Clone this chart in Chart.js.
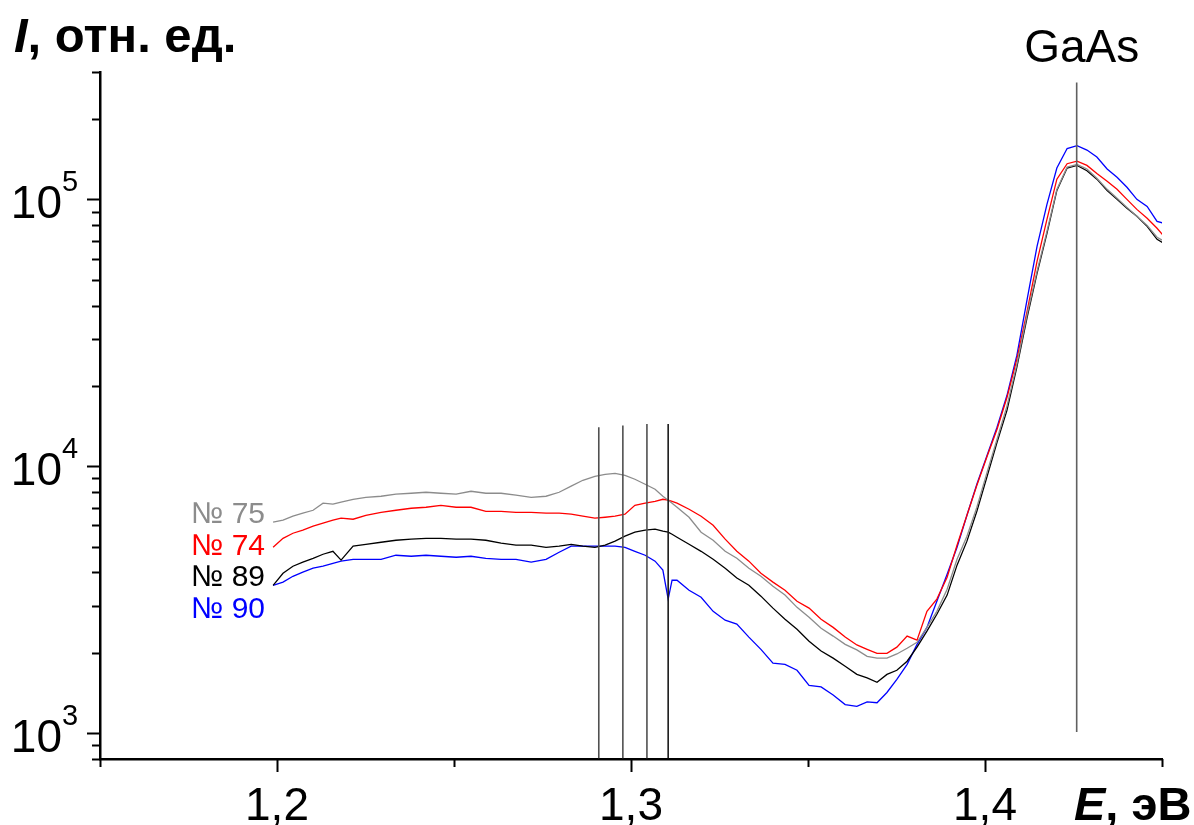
<!DOCTYPE html>
<html>
<head>
<meta charset="utf-8">
<script src="https://cdn.jsdelivr.net/npm/chart.js@4.4.1/dist/chart.umd.min.js"></script>
<style>
  body { margin: 0; background: #fff; }
  #wrap { width: 1194px; height: 825px; }
</style>
</head>
<body>
<div id="wrap"><canvas id="chart" width="1194" height="825"></canvas></div>
<script>
// photon energy, eV
const energy = [
  1.1989, 1.2017, 1.2045, 1.2073, 1.2102, 1.2130, 1.2158, 1.2181, 1.2215, 1.2251,
  1.2294, 1.2336, 1.2379, 1.2421, 1.2463, 1.2506, 1.2548, 1.2590, 1.2633, 1.2675,
  1.2718, 1.2760, 1.2797, 1.2831, 1.2864, 1.2898, 1.2927, 1.2955, 1.2983, 1.3011,
  1.3040, 1.3068, 1.3090, 1.3105, 1.3116, 1.3130, 1.3164, 1.3198, 1.3232, 1.3266,
  1.3299, 1.3333, 1.3367, 1.3401, 1.3435, 1.3469, 1.3503, 1.3537, 1.3571, 1.3605,
  1.3638, 1.3667, 1.3695, 1.3723, 1.3751, 1.3780, 1.3808, 1.3836, 1.3864, 1.3893,
  1.3921, 1.3949, 1.3977, 1.4006, 1.4034, 1.4062, 1.4090, 1.4119, 1.4147, 1.4175,
  1.4203, 1.4232, 1.4260, 1.4288, 1.4316, 1.4345, 1.4373, 1.4401, 1.4429, 1.4458,
  1.4486, 1.4506
];

// intensity, rel. units
const no75 = [
  6170, 6280, 6500, 6670, 6840, 7270, 7210, 7330, 7520, 7650,
  7720, 7860, 7920, 7990, 7920, 7860, 8060, 7920, 7920, 7790,
  7650, 7720, 7990, 8420, 8860, 9170, 9330, 9410, 9250, 8940,
  8560, 8200, 7720, 7460, 7270, 7020, 6440, 5660, 5280, 4800,
  4520, 4150, 3870, 3550, 3290, 2960, 2720, 2470, 2310, 2150,
  2050, 1940, 1910, 1910, 1980, 2080, 2190, 2490, 2860, 3460,
  4480, 5470, 7020, 9500, 12620, 16800, 24100, 37100, 53700, 75900,
  109000, 132000, 135000, 130000, 120000, 109000, 101000, 93300, 86400, 79900,
  72100, 69600
];
const no74 = [
  4970, 5370, 5610, 5760, 5960, 6120, 6280, 6390, 6330, 6550,
  6720, 6840, 6960, 7020, 7140, 7020, 7020, 6780, 6780, 6720,
  6720, 6670, 6670, 6610, 6500, 6390, 6440, 6500, 6610, 7140,
  7270, 7390, 7520, 7460, 7390, 7270, 6900, 6500, 6010, 5330,
  4800, 4410, 3970, 3680, 3430, 3120, 2940, 2670, 2490, 2290,
  2140, 2060, 1990, 1990, 2100, 2310, 2230, 2860, 3180, 3840,
  5060, 6550, 8490, 10900, 13760, 18100, 25200, 38100, 58600, 84200,
  119000, 136000, 139000, 134000, 125000, 117000, 109000, 100000, 91700, 84900,
  77900, 72700
];
const no89 = [
  3580, 3970, 4220, 4370, 4520, 4680, 4800, 4450, 5020, 5100,
  5190, 5280, 5330, 5370, 5370, 5330, 5330, 5280, 5150, 5060,
  5060, 4970, 5020, 5100, 5020, 4970, 5060, 5240, 5470, 5660,
  5760, 5810, 5710, 5660, 5560, 5420, 5100, 4800, 4480, 4150,
  3810, 3580, 3260, 2940, 2670, 2450, 2210, 2030, 1910, 1780,
  1660, 1610, 1550, 1660, 1720, 1860, 2100, 2410, 2790, 3290,
  4260, 5240, 6780, 9170, 12300, 16200, 23500, 36100, 52800, 74600,
  108000, 131000, 134000, 128000, 119000, 108000, 100000, 92500, 86400, 79200,
  70800, 68400
];
const no90 = [
  3580, 3680, 3870, 4010, 4150, 4220, 4330, 4410, 4480, 4480,
  4480, 4640, 4600, 4640, 4600, 4560, 4600, 4520, 4480, 4480,
  4370, 4480, 4760, 5020, 5020, 5020, 5020, 5020, 4970, 4800,
  4640, 4410, 4080, 3180, 3740, 3740, 3430, 3230, 2860, 2650,
  2560, 2290, 2060, 1830, 1810, 1720, 1510, 1490, 1390, 1280,
  1260, 1310, 1300, 1420, 1590, 1810, 2150, 2490, 3120, 3940,
  4970, 6550, 8560, 11000, 14000, 18400, 26000, 42200, 66700, 95800,
  131000, 155000, 159000, 153000, 144000, 130000, 121000, 111000, 100000, 94100,
  82700, 81300
];

const seriesNames = ['№ 75', '№ 74', '№ 89', '№ 90'];
const seriesColors = ['#8c8c8c', '#ff0000', '#000000', '#0000ff'];

// vertical marker lines
const markerE = [1.2909, 1.2977, 1.3045, 1.3105];
const markerTop = [14000, 14200, 14400, 14400];
const markerBottom = 805;
const gaasE = 1.4259;
const gaasRange = [1010, 274000];

// axes
const xTickValues = [1.15, 1.2, 1.25, 1.3, 1.35, 1.4, 1.45];
const xTickLabels = ['', '1,2', '', '1,3', '', '1,4', ''];
const yDecades = [1e3, 1e4, 1e5];
const yDecadeExp = ['3', '4', '5'];
const yMinorTicks = [800, 900, 2000, 3000, 4000, 5000, 6000, 7000, 8000, 9000,
  20000, 30000, 40000, 50000, 60000, 70000, 80000, 90000, 200000, 300000];

const FONT = '"Liberation Sans", Arial, sans-serif';

const toPoints = (ys) => energy.map((e, i) => ({ x: e, y: ys[i] }));

const datasets = [];
markerE.forEach((e, i) => {
  datasets.push({
    data: [{ x: e, y: markerBottom }, { x: e, y: markerTop[i] }],
    borderColor: i < 3 ? '#505050' : '#1a1a1a',
    borderWidth: 1.6
  });
});
datasets.push({
  data: [{ x: gaasE, y: gaasRange[0] }, { x: gaasE, y: gaasRange[1] }],
  borderColor: '#606060',
  borderWidth: 1.6
});
[no75, no74, no89, no90].forEach((ys, i) => {
  datasets.push({
    label: seriesNames[i],
    data: toPoints(ys),
    borderColor: seriesColors[i],
    borderWidth: 1.3
  });
});

const overlay = {
  id: 'overlay',
  afterDraw(chart) {
    const { ctx, chartArea: a, scales: { x, y } } = chart;
    ctx.save();
    ctx.strokeStyle = '#000';
    ctx.lineWidth = 2;
    const seg = (x1, y1, x2, y2) => {
      ctx.beginPath(); ctx.moveTo(x1, y1); ctx.lineTo(x2, y2); ctx.stroke();
    };
    yMinorTicks.forEach(v => {
      const py = Math.round(y.getPixelForValue(v)) + 0.5;
      seg(a.left - 8, py, a.left, py);
    });
    yDecades.forEach(v => {
      const py = Math.round(y.getPixelForValue(v)) + 0.5;
      seg(a.left - 13, py, a.left, py);
    });
    xTickValues.forEach((v, i) => {
      const px = Math.round(x.getPixelForValue(v)) + 0.5;
      seg(px, a.bottom, px, a.bottom + (xTickLabels[i] ? 13 : 8));
    });

    ctx.fillStyle = '#000';
    ctx.textBaseline = 'alphabetic';
    // y decade labels with superscripts
    yDecades.forEach((v, i) => {
      const py = y.getPixelForValue(v);
      ctx.font = '46px ' + FONT;
      ctx.textAlign = 'right';
      ctx.fillText('10', 62, py + 19);
      ctx.font = '29px ' + FONT;
      ctx.textAlign = 'left';
      ctx.fillText(yDecadeExp[i], 62, py - 8);
    });
    // x labels
    ctx.font = '46px ' + FONT;
    ctx.textAlign = 'center';
    xTickValues.forEach((v, i) => {
      if (xTickLabels[i]) ctx.fillText(xTickLabels[i], x.getPixelForValue(v), 820);
    });

    // axis titles
    ctx.textAlign = 'left';
    ctx.font = 'italic bold 49px ' + FONT;
    ctx.fillText('I', 14, 52);
    let w = ctx.measureText('I').width;
    ctx.font = 'bold 49px ' + FONT;
    ctx.fillText(', отн. ед.', 14 + w, 52);

    ctx.font = 'italic bold 47px ' + FONT;
    ctx.fillText('E', 1074, 820);
    w = ctx.measureText('E').width;
    ctx.font = 'bold 47px ' + FONT;
    ctx.fillText(', эВ', 1074 + w, 820);

    ctx.font = '46px ' + FONT;
    ctx.textAlign = 'center';
    ctx.fillText('GaAs', x.getPixelForValue(gaasE) + 5, 62);

    // series labels
    ctx.font = '30px ' + FONT;
    ctx.textAlign = 'right';
    const baselines = [523, 555, 586, 618];
    seriesNames.forEach((n, i) => {
      ctx.fillStyle = seriesColors[i];
      ctx.fillText(n, 265, baselines[i]);
    });
    ctx.restore();
  }
};

new Chart(document.getElementById('chart'), {
  type: 'line',
  data: { datasets },
  options: {
    responsive: false,
    animation: false,
    devicePixelRatio: 1,
    layout: { padding: { left: 100, right: 32, top: 72, bottom: 66 } },
    plugins: { legend: { display: false }, tooltip: { enabled: false } },
    elements: { point: { radius: 0 }, line: { tension: 0 } },
    scales: {
      x: {
        type: 'linear', min: 1.15, max: 1.45,
        grid: { display: false, drawTicks: false },
        ticks: { display: false },
        border: { display: true, color: '#000', width: 2.5 }
      },
      y: {
        type: 'logarithmic', min: 800, max: 300000,
        grid: { display: false, drawTicks: false },
        ticks: { display: false },
        border: { display: true, color: '#000', width: 2.5 }
      }
    }
  },
  plugins: [overlay]
});
</script>
</body>
</html>
